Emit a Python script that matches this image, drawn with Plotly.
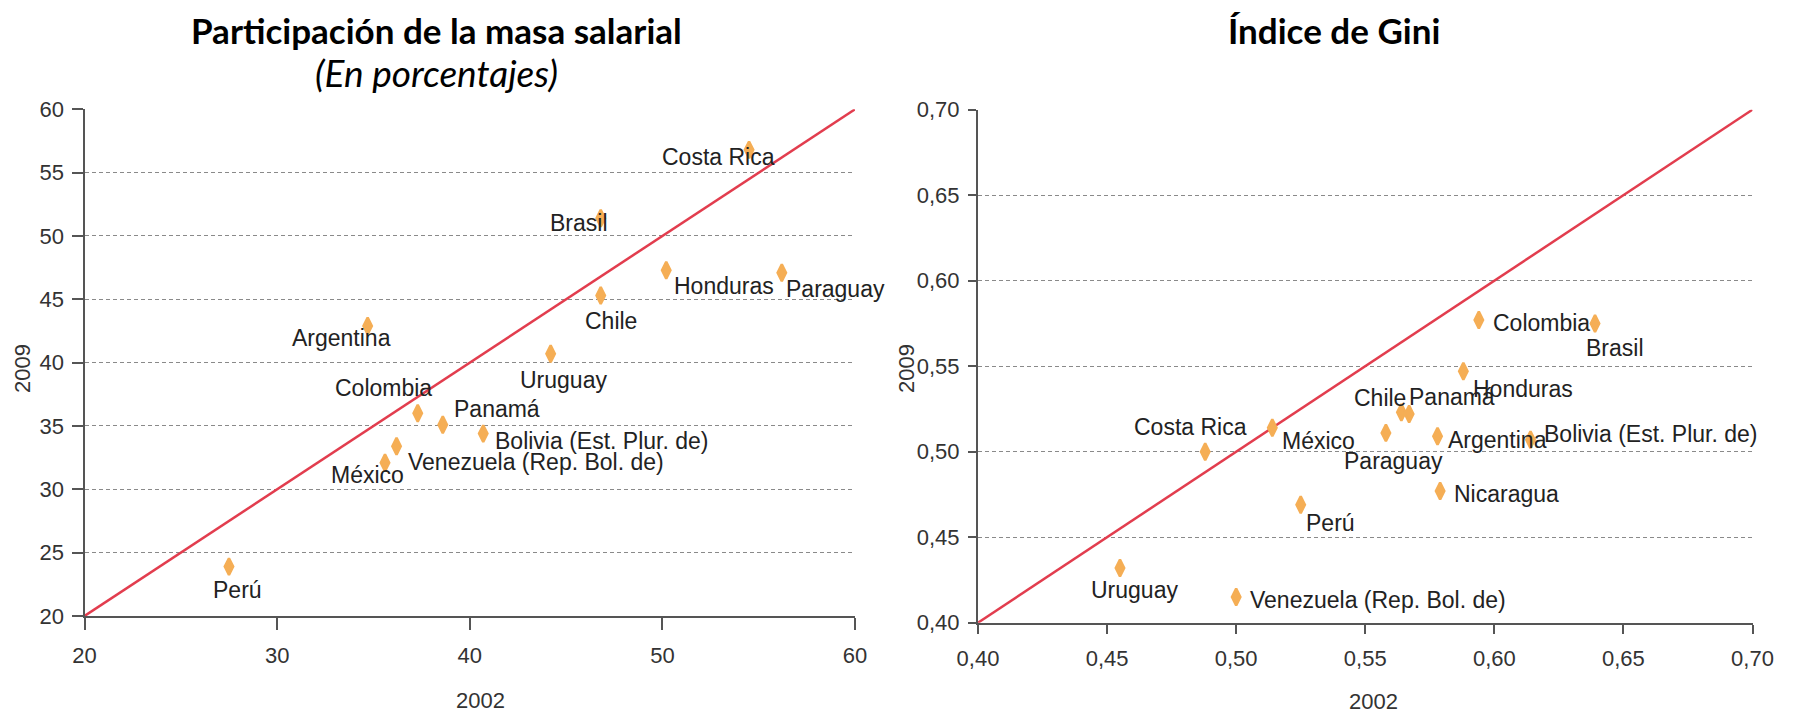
import plotly.graph_objects as go

# ---------------- Data ----------------
# Left panel: Participación de la masa salarial (%)
wage_countries = ["Costa Rica", "Brasil", "Honduras", "Paraguay", "Chile", "Argentina",
                  "Uruguay", "Colombia", "Panamá", "Bolivia (Est. Plur. de)",
                  "Venezuela (Rep. Bol. de)", "México", "Perú"]
wage_2002 = [54.5, 46.8, 50.2, 56.2, 46.8, 34.7, 44.2, 37.3, 38.6, 40.7, 36.2, 35.6, 27.5]
wage_2009 = [56.8, 51.4, 47.3, 47.1, 45.3, 42.9, 40.7, 36.0, 35.1, 34.4, 33.4, 32.1, 23.9]

# Right panel: Índice de Gini
gini_countries = ["Colombia", "Brasil", "Honduras", "Chile", "Panamá", "Costa Rica", "México",
                  "Paraguay", "Argentina", "Bolivia (Est. Plur. de)", "Nicaragua", "Perú",
                  "Uruguay", "Venezuela (Rep. Bol. de)"]
gini_2002 = [0.594, 0.639, 0.588, 0.564, 0.567, 0.488, 0.514, 0.558, 0.578, 0.614, 0.579,
             0.525, 0.455, 0.500]
gini_2009 = [0.577, 0.575, 0.547, 0.523, 0.522, 0.500, 0.514, 0.511, 0.509, 0.507, 0.477,
             0.469, 0.432, 0.415]

wage_range = [20, 60]
gini_range = [0.40, 0.70]
wage_yticks = [20, 25, 30, 35, 40, 45, 50, 55, 60]
wage_xticks = [20, 30, 40, 50, 60]
gini_ticks = [0.40, 0.45, 0.50, 0.55, 0.60, 0.65, 0.70]

# ---------------- Styles ----------------
MARKER_COLOR = "#f5ae55"
LINE_COLOR = "#e23d4e"
LABEL_FONT = dict(family="Arial, Liberation Sans, sans-serif", size=23, color="#222222")
TICK_FONT = dict(family="Arial, Liberation Sans, sans-serif", size=22, color="#333333")

# label placement: (anchor, dx, dy-down) in pixels
wage_label_pos = {
    "Costa Rica": ("center", -31, 7), "Brasil": ("center", -22, 5),
    "Honduras": ("center", 58, 16), "Paraguay": ("center", 54, 16),
    "Chile": ("center", 10, 25), "Argentina": ("center", -26, 12),
    "Uruguay": ("center", 13, 26), "Colombia": ("center", -34, -25),
    "Panamá": ("center", 54, -16), "Bolivia (Est. Plur. de)": ("left", 10, 7),
    "Venezuela (Rep. Bol. de)": ("left", 9, 16), "México": ("center", -18, 12),
    "Perú": ("center", 9, 23),
}
gini_label_pos = {
    "Colombia": ("left", 12, 3), "Brasil": ("center", 20, 25),
    "Honduras": ("left", 8, 18), "Chile": ("right", 7, -14),
    "Panamá": ("left", -2, -17), "Costa Rica": ("center", -15, -25),
    "México": ("left", 8, 13), "Paraguay": ("center", 8, 28),
    "Argentina": ("left", 8, 4), "Bolivia (Est. Plur. de)": ("left", 12, -6),
    "Nicaragua": ("left", 12, 3), "Perú": ("center", 30, 18),
    "Uruguay": ("center", 15, 22), "Venezuela (Rep. Bol. de)": ("left", 12, 3),
}

# The page body has an 8px margin: figure pixel = target pixel - 8
OFF = 8
W, H = 1796 - OFF, 715 - OFF

fig = go.Figure()

# diagonal (45°) lines
fig.add_trace(go.Scatter(x=wage_range, y=wage_range, mode="lines",
                         line=dict(color=LINE_COLOR, width=2.5),
                         xaxis="x", yaxis="y", hoverinfo="skip", showlegend=False,
                         cliponaxis=False))
fig.add_trace(go.Scatter(x=gini_range, y=gini_range, mode="lines",
                         line=dict(color=LINE_COLOR, width=2.5),
                         xaxis="x2", yaxis="y2", hoverinfo="skip", showlegend=False,
                         cliponaxis=False))

marker = dict(symbol="diamond-tall", size=12, color=MARKER_COLOR,
              line=dict(color=MARKER_COLOR, width=2.5))
fig.add_trace(go.Scatter(x=wage_2002, y=wage_2009, mode="markers", marker=marker,
                         text=wage_countries, xaxis="x", yaxis="y", showlegend=False))
fig.add_trace(go.Scatter(x=gini_2002, y=gini_2009, mode="markers", marker=marker,
                         text=gini_countries, xaxis="x2", yaxis="y2", showlegend=False))

annotations = []
for name, xv, yv in zip(wage_countries, wage_2002, wage_2009):
    anc, dx, dy = wage_label_pos[name]
    annotations.append(dict(x=xv, y=yv, xref="x", yref="y", text=name, showarrow=False,
                            xanchor=anc, yanchor="middle", xshift=dx, yshift=-dy,
                            font=LABEL_FONT))
for name, xv, yv in zip(gini_countries, gini_2002, gini_2009):
    anc, dx, dy = gini_label_pos[name]
    annotations.append(dict(x=xv, y=yv, xref="x2", yref="y2", text=name, showarrow=False,
                            xanchor=anc, yanchor="middle", xshift=dx, yshift=-dy,
                            font=LABEL_FONT))

def px(xp):
    return (xp - OFF) / W

def py(yp):
    return 1 - (yp - OFF) / H

TITLE_FONT = dict(family="Lato, Open Sans, sans-serif", size=35, color="#000000")
annotations += [
    dict(x=px(436), y=py(30), xref="paper", yref="paper", showarrow=False,
         text="<b>Participación de la masa salarial</b>", font=TITLE_FONT,
         xanchor="center", yanchor="middle"),
    dict(x=px(436), y=py(72), xref="paper", yref="paper", showarrow=False,
         text="<i>(En porcentajes)</i>",
         font=dict(family="Lato, Open Sans, sans-serif", size=37, color="#000000"),
         xanchor="center", yanchor="middle"),
    dict(x=px(1334), y=py(30), xref="paper", yref="paper", showarrow=False,
         text="<b>Índice de Gini</b>", font=TITLE_FONT, xanchor="center", yanchor="middle"),
    # axis titles
    dict(x=px(480), y=py(700), xref="paper", yref="paper", showarrow=False, text="2002",
         font=TICK_FONT, xanchor="center", yanchor="middle"),
    dict(x=px(1373), y=py(701), xref="paper", yref="paper", showarrow=False, text="2002",
         font=TICK_FONT, xanchor="center", yanchor="middle"),
    dict(x=px(22), y=py(369), xref="paper", yref="paper", showarrow=False, text="2009",
         font=TICK_FONT, textangle=-90, xanchor="center", yanchor="middle"),
    dict(x=px(906), y=py(369), xref="paper", yref="paper", showarrow=False, text="2009",
         font=TICK_FONT, textangle=-90, xanchor="center", yanchor="middle"),
]

axis_common = dict(showline=True, linecolor="#555555", linewidth=2, zeroline=False,
                   ticks="outside", tickcolor="#555555", tickwidth=1.5,
                   tickfont=TICK_FONT, fixedrange=True, automargin=False)
grid = dict(showgrid=True, gridcolor="#8a8a8a", gridwidth=1, griddash="4px,3px")

fig.update_layout(
    width=W, height=H,
    margin=dict(l=0, r=0, t=0, b=0, pad=0, autoexpand=False),
    paper_bgcolor="white", plot_bgcolor="white",
    separators=", ",
    showlegend=False,
    xaxis=dict(domain=[px(84.5), px(855)], range=wage_range, tickvals=wage_xticks,
               anchor="y", showgrid=False, ticklen=12, ticklabelstandoff=7, **axis_common),
    yaxis=dict(domain=[py(616), py(109.3)], range=wage_range, tickvals=wage_yticks,
               anchor="x", ticklen=11, ticklabelstandoff=3, **grid, **axis_common),
    xaxis2=dict(domain=[px(978), px(1752.5)], range=gini_range, tickvals=gini_ticks,
                tickformat=".2f", anchor="y2", showgrid=False, ticklen=9,
                ticklabelstandoff=6, **axis_common),
    yaxis2=dict(domain=[py(622.7), py(109.7)], range=gini_range, tickvals=gini_ticks,
                tickformat=".2f", anchor="x2", ticklen=8, ticklabelstandoff=4,
                **grid, **axis_common),
    annotations=annotations,
)

fig.write_html("out.html")
